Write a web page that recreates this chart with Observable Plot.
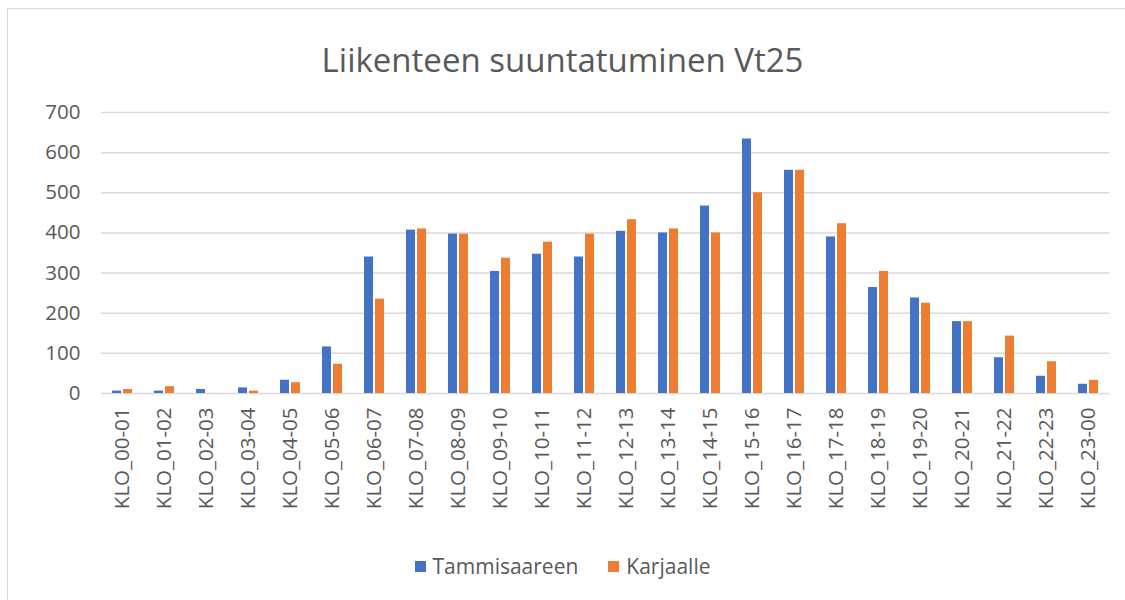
<!DOCTYPE html>
<html>
<head>
<meta charset="utf-8">
<script src="https://cdn.jsdelivr.net/npm/d3@7"></script>
<script src="https://cdn.jsdelivr.net/npm/@observablehq/plot@0.6"></script>
<style>
  html, body { margin: 0; padding: 0; background: #fff; }
  #frame { position: absolute; left: 7px; top: 8px; width: 1130px; height: 600px; border: 1px solid #d9d9d9; box-sizing: border-box; }
  #title { position: absolute; left: 0; top: 36px; width: 1125px; text-align: center; font-family: "Open Sans", sans-serif; font-size: 33px; line-height: 48px; color: #595959; }
  #chart { position: absolute; left: 0; top: 90px; }
  #legend { position: absolute; top: 551px; left: 0; width: 1125px; display: flex; justify-content: center; gap: 30px; font-family: "Open Sans", sans-serif; font-size: 21px; line-height: 30px; color: #595959; }
  .item { display: flex; align-items: center; gap: 7px; }
  .sw { width: 11px; height: 11px; display: inline-block; }
</style>
</head>
<body>
<div id="frame"></div>
<div id="title">Liikenteen suuntatuminen Vt25</div>
<div id="chart"></div>
<div id="legend"></div>
<script>
const categories = ["KLO_00-01","KLO_01-02","KLO_02-03","KLO_03-04","KLO_04-05","KLO_05-06","KLO_06-07","KLO_07-08","KLO_08-09","KLO_09-10","KLO_10-11","KLO_11-12","KLO_12-13","KLO_13-14","KLO_14-15","KLO_15-16","KLO_16-17","KLO_17-18","KLO_18-19","KLO_19-20","KLO_20-21","KLO_21-22","KLO_22-23","KLO_23-00"];
const tammisaareen = [6, 6, 10, 14, 33, 116, 340, 407, 397, 304, 347, 340, 404, 400, 467, 634, 556, 390, 264, 238, 179, 89, 43, 23];
const karjaalle = [10, 17, 0, 6, 27, 73, 235, 410, 397, 337, 377, 397, 433, 410, 400, 500, 556, 423, 304, 225, 179, 143, 79, 33];
const seriesNames = ["Tammisaareen", "Karjaalle"];
const seriesColors = ["#4472C4", "#ED7D31"];
const yTicks = [0, 100, 200, 300, 400, 500, 600, 700];

const data = [];
categories.forEach((c, i) => {
  data.push({hour: c, series: seriesNames[0], value: tammisaareen[i]});
  data.push({hour: c, series: seriesNames[1], value: karjaalle[i]});
});

const chart = Plot.plot({
  width: 1125,
  height: 433,
  marginTop: 22,
  marginBottom: 130,
  marginLeft: 94,
  marginRight: 10,
  style: {fontFamily: "'Open Sans', sans-serif", fontSize: "20.5px", color: "#595959", background: "transparent"},
  fx: {domain: categories, padding: 0, label: null, axis: "bottom", tickRotate: -90, tickSize: 0, tickPadding: 14},
  x: {domain: seriesNames, axis: null, paddingInner: 0.22, paddingOuter: 0.88},
  y: {domain: [0, 700], ticks: yTicks, label: null, tickSize: 0, tickPadding: 21, grid: false},
  color: {domain: seriesNames, range: seriesColors},
  marks: [
    Plot.ruleY(yTicks, {stroke: "#d9d9d9", strokeWidth: 1.5}),
    Plot.barY(data, {fx: "hour", x: "series", y: "value", fill: "series"})
  ]
});
document.getElementById("chart").appendChild(chart);

const legend = document.getElementById("legend");
seriesNames.forEach((n, i) => {
  const it = document.createElement("div");
  it.className = "item";
  const sw = document.createElement("span");
  sw.className = "sw";
  sw.style.background = seriesColors[i];
  it.appendChild(sw);
  const t = document.createElement("span");
  t.textContent = n;
  it.appendChild(t);
  legend.appendChild(it);
});
</script>
</body>
</html>
